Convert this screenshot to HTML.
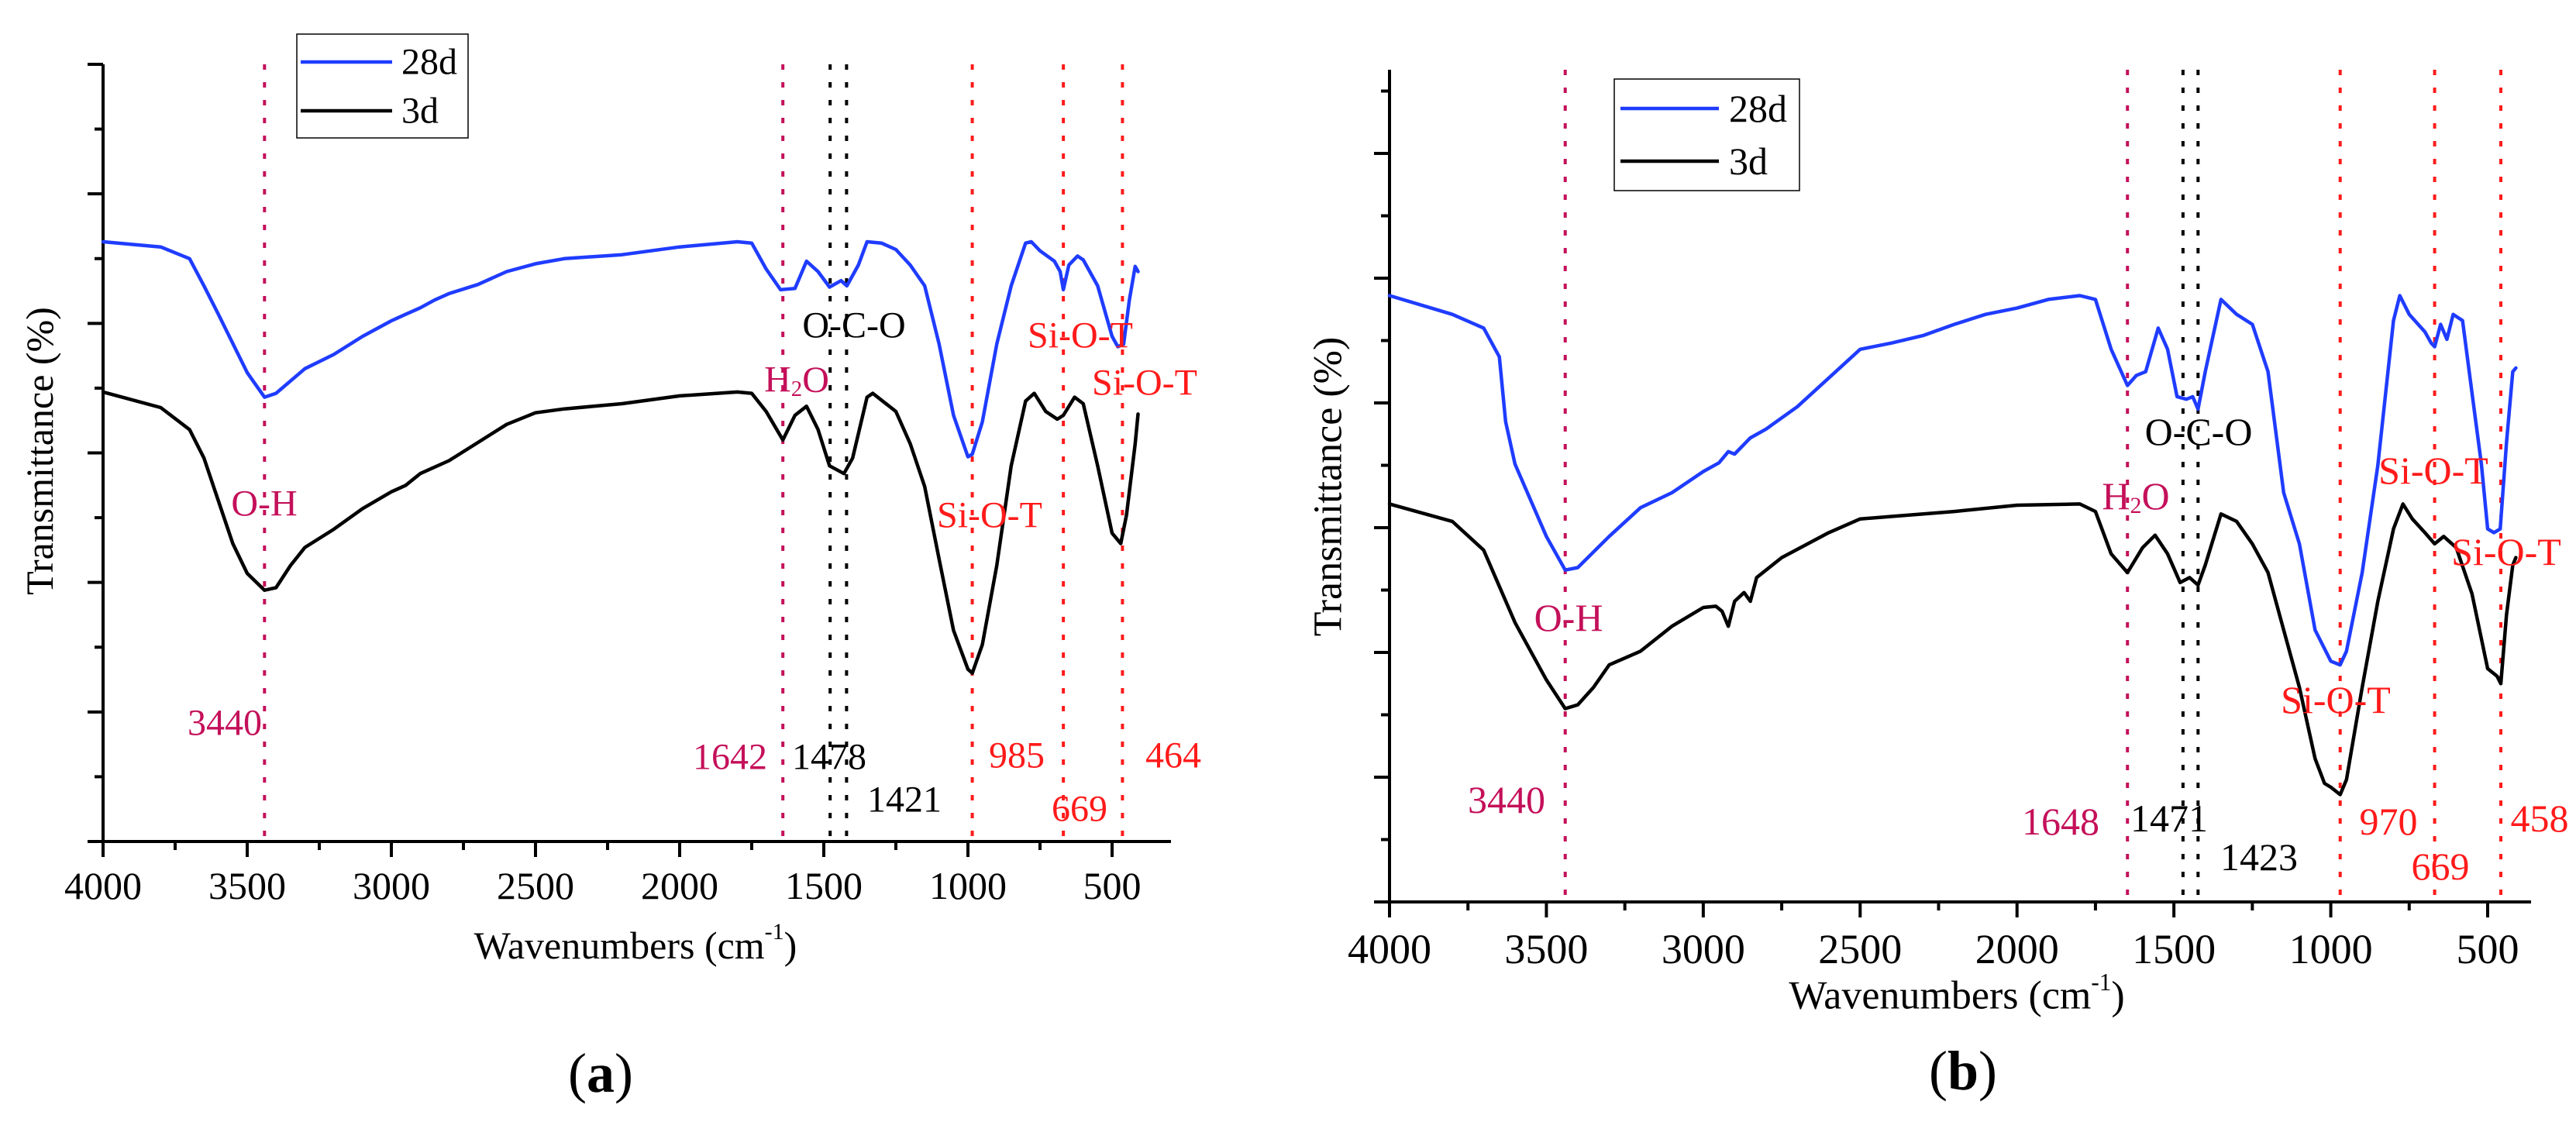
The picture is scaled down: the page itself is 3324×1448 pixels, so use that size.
<!DOCTYPE html>
<html><head><meta charset="utf-8"><style>
html,body{margin:0;padding:0;background:#fff}
svg{display:block;font-family:"Liberation Serif","DejaVu Serif",serif}
svg text, svg tspan{font-family:"Liberation Serif","DejaVu Serif",serif}
</style></head><body>
<svg id="chart" width="3324" height="1448" viewBox="0 0 3324 1448" xmlns="http://www.w3.org/2000/svg" font-family="Liberation Serif, DejaVu Serif, serif"></svg>
<script>
// ---- Panel (a) data ----
const aWn28 = [4000,3800,3700,3650,3600,3500,3440,3400,3300,3200,3100,3000,2950,2900,2850,2800,2700,2600,2500,2400,2200,2000,1800,1750,1700,1650,1600,1560,1520,1480,1440,1420,1380,1350,1300,1250,1200,1150,1100,1050,1000,985,950,900,850,800,780,750,700,680,669,650,620,600,550,500,480,460,440,420,410];
const aT28 = [46.3,45.9,45,42.9,40.7,36.2,34.3,34.6,36.5,37.6,39,40.2,40.7,41.2,41.8,42.3,43,44,44.6,45,45.3,45.9,46.3,46.2,44.2,42.6,42.7,44.8,44,42.8,43.3,42.9,44.5,46.3,46.2,45.7,44.5,42.9,38.4,32.9,29.7,29.9,32.4,38.4,42.9,46.2,46.3,45.6,44.8,44,42.6,44.5,45.2,44.9,42.9,39,38.2,38.4,41.8,44.4,44];
const aWn3 = [4000,3800,3700,3650,3600,3550,3500,3440,3400,3350,3300,3200,3100,3000,2950,2900,2800,2700,2600,2500,2400,2200,2000,1800,1750,1700,1642,1600,1560,1520,1480,1430,1400,1350,1330,1250,1200,1150,1100,1050,1000,985,950,900,850,800,770,730,690,669,630,600,550,500,470,450,420,410];
const aT3 = [34.7,33.5,31.8,29.6,26.3,23,20.7,19.4,19.6,21.3,22.7,24.1,25.7,27,27.5,28.4,29.4,30.8,32.2,33.1,33.4,33.8,34.4,34.7,34.6,33.2,31,32.9,33.6,31.8,29,28.4,29.6,34.3,34.6,33.2,30.7,27.4,21.8,16.3,13.3,13,15.2,21.3,29,34,34.6,33.2,32.6,32.9,34.3,33.8,29,23.8,23,25.2,30.7,33];
const aXTicks = [4000,3500,3000,2500,2000,1500,1000,500];
// ---- Panel (b) data ----
const bWn28 = [4000,3800,3700,3650,3630,3600,3500,3440,3400,3300,3200,3100,3000,2950,2920,2900,2850,2800,2700,2600,2500,2400,2300,2200,2100,2000,1900,1800,1750,1700,1648,1620,1590,1550,1520,1490,1460,1440,1423,1400,1350,1300,1250,1200,1150,1100,1050,1000,970,950,900,850,800,780,750,700,680,669,650,630,610,580,550,520,500,480,460,440,420,410];
const bT28 = [48.6,47.1,46,43.7,38.5,35.1,29.3,26.6,26.8,29.3,31.6,32.8,34.5,35.2,36.1,35.9,37.2,37.9,39.7,42,44.3,44.8,45.4,46.3,47.1,47.6,48.3,48.6,48.3,44.3,41.4,42.2,42.5,46,44.3,40.5,40.3,40.5,39.5,42.5,48.3,47.1,46.3,42.5,32.8,28.7,21.8,19.3,19,20.1,26.4,35,46.6,48.6,47.1,45.7,44.8,44.5,46.3,45.1,47.1,46.6,40.8,35.1,29.9,29.6,29.9,36.8,42.5,42.8];
const bWn3 = [4000,3800,3700,3650,3600,3500,3440,3400,3350,3300,3200,3100,3000,2960,2940,2920,2900,2870,2850,2830,2750,2600,2500,2400,2200,2000,1800,1750,1700,1648,1600,1560,1520,1480,1450,1423,1400,1350,1300,1250,1200,1150,1100,1050,1020,1000,970,950,900,850,800,770,740,700,669,640,600,550,500,470,458,440,420,410];
const bT3 = [31.9,30.5,28.2,25.3,22.4,17.8,15.5,15.8,17.2,19,20.1,22.1,23.6,23.7,23.3,22.1,24.1,24.8,24.1,26,27.6,29.6,30.7,30.9,31.3,31.8,31.9,31.3,27.9,26.4,28.4,29.4,27.9,25.6,26,25.4,27,31.1,30.5,28.7,26.4,21.8,17.2,11.5,9.5,9.2,8.6,9.8,17.2,24.1,29.9,31.9,30.7,29.6,28.7,29.3,28.4,24.7,18.7,18.1,17.5,23,27,27.6];
const bXTicks = [4000,3500,3000,2500,2000,1500,1000,500];

const NS = "http://www.w3.org/2000/svg";
const FONT = "Liberation Serif, DejaVu Serif, serif";
const svg = document.getElementById('chart');
const CRIM = "#c4105a", RED = "#ff1a1a", BLUE = "#1f3cff";

function mk(tag, attrs, parent){
  const e = document.createElementNS(NS, tag);
  for (const k in attrs) e.setAttribute(k, attrs[k]);
  (parent||svg).appendChild(e);
  return e;
}
function txt(parent, x, y, s, size, fill, anchor){
  const t = mk('text', {x:x, y:y, 'font-size':size, 'font-family':FONT, fill:fill||'#000', 'text-anchor':anchor||'start', 'dominant-baseline':'central'}, parent);
  t.textContent = s;
  return t;
}

function panel(cfg){
  const g = mk('g', {'font-family':FONT});
  
  
  const X = wn => cfg.x0 + (4000 - wn) * cfg.pxPerWn;
  const Y = v => cfg.yBottom - v * cfg.pxPerUnit;
  const yAx = mk('line', {x1:cfg.x0, y1:cfg.yTop, x2:cfg.x0, y2:cfg.yBottom+2, stroke:'#000','stroke-width':4}, g);
  
  
  const xAx = mk('line', {x1:cfg.x0-18, y1:cfg.yBottom, x2:cfg.xEnd, y2:cfg.yBottom, stroke:'#000','stroke-width':4}, g);
  
  
  for (let v = 0; v * cfg.pxPerUnit <= cfg.yBottom - cfg.yTop + 1; v += 5){
    const major = (v % 10 === 0);
    const t = mk('line', {x1:cfg.x0 - (major?20:11), y1:Y(v), x2:cfg.x0, y2:Y(v), stroke:'#000','stroke-width':4}, g);
    
    
  }
  for (let w = 4000; X(w) <= cfg.xEnd; w -= 250){
    const major = (w % 500 === 0);
    const t = mk('line', {x1:X(w), y1:cfg.yBottom, x2:X(w), y2:cfg.yBottom + (major?20:11), stroke:'#000','stroke-width':4}, g);
    
    
  }
  cfg.xTicks.forEach(w => {
    const l = txt(g, X(w), cfg.tickLabelY, String(w), cfg.tickSize, '#000', 'middle');
    
    
  });
  const xt = mk('text', {x:cfg.xTitleX, y:cfg.xTitleY, 'font-size':cfg.titleSize, 'font-family':FONT, 'text-anchor':'middle','dominant-baseline':'central'}, g);
  xt.innerHTML = 'Wavenumbers (cm<tspan dy="-18" font-size="'+(cfg.titleSize*0.6)+'">-1</tspan><tspan dy="18">)</tspan>';
  
  
  const yt = txt(g, 0, 0, 'Transmittance (%)', cfg.titleSize, '#000', 'middle');
  yt.setAttribute('transform', 'translate('+cfg.yTitleX+','+cfg.yTitleY+') rotate(-90)');
  
  
  cfg.refs.forEach(r => {
    const l = mk('line', {x1:X(r[0]), y1:cfg.yTop, x2:X(r[0]), y2:cfg.yBottom, stroke:r[1], 'stroke-width':4, 'stroke-dasharray':'7 16'}, g);
    
    
  });
  function series(wn, vals, color, name){
    const d = wn.map((w,i) => (i?'L':'M') + X(w).toFixed(1) + ',' + Y(vals[i]).toFixed(1)).join(' ');
    const p = mk('path', {d:d, fill:'none', stroke:color, 'stroke-width':4.5, 'stroke-linejoin':'round', 'stroke-linecap':'round'}, g);
    
    
  }
  series(cfg.wn3, cfg.t3, '#000', 'series-3d');
  series(cfg.wn28, cfg.t28, BLUE, 'series-28d');
  cfg.labels.forEach(a => {
    let t;
    if (a[2] === 'H2O'){
      t = mk('text', {x:a[0], y:a[1], 'font-size':cfg.annSize, 'font-family':FONT, fill:a[3], 'text-anchor':'middle','dominant-baseline':'central'}, g);
      t.innerHTML = 'H<tspan dy="12" font-size="'+(cfg.annSize*0.6)+'">2</tspan><tspan dy="-12">O</tspan>';
    } else {
      t = txt(g, a[0], a[1], a[2], cfg.annSize, a[3], 'middle');
    }
    
    
  });
  const L = cfg.legend;
  const lg = mk('g', {}, g);
  
  
  mk('rect', {x:L.x, y:L.y, width:L.w, height:L.h, fill:'#fff', stroke:'#000', 'stroke-width':1.5}, lg);
  [[BLUE,'28d',L.y1],['#000','3d',L.y2]].forEach(e => {
    const ln = mk('line', {x1:L.lx1, y1:e[2], x2:L.lx2, y2:e[2], stroke:e[0], 'stroke-width':4.5}, lg);
    
    
    const tt = txt(lg, L.tx, e[2], e[1], cfg.legSize, '#000', 'start');
    
    
  });
  const pl = mk('text', {x:cfg.plX, y:cfg.plY, 'font-size':72, 'font-family':FONT, 'text-anchor':'middle','dominant-baseline':'central'}, g);
  pl.innerHTML = '(<tspan font-weight="bold">' + cfg.letter + '</tspan>)';
  
  
}

panel({
  name:'panel-a', letter:'a', x0:133, pxPerWn:1302/3500, xEnd:1511, yTop:83, yBottom:1086, pxPerUnit:1003/60,
  xTicks:aXTicks, tickLabelY:1143, tickSize:50, titleSize:50, annSize:48, legSize:48,
  xTitleX:820, xTitleY:1220, yTitleX:51, yTitleY:582,
  wn28:aWn28, t28:aT28, wn3:aWn3, t3:aT3,
  refs:[[3440,CRIM],[1642,CRIM],[1478,'#000'],[1421,'#000'],[985,RED],[669,RED],[464,RED]],
  labels:[[1102,420,'O-C-O','#000'],[1028,490,'H2O',CRIM],[1394,433,'Si-O-T',RED],[1477,494,'Si-O-T',RED],
          [341,650,'O-H',CRIM],[1277,665,'Si-O-T',RED],[290,933,'3440',CRIM],[942,977,'1642',CRIM],
          [1070,977,'1478','#000'],[1167,1032,'1421','#000'],[1312,975,'985',RED],[1393,1044,'669',RED],[1514,975,'464',RED]],
  legend:{x:383,y:44,w:221,h:134,y1:80,y2:143,lx1:388,lx2:506,tx:518},
  plX:775, plY:1385
});
panel({
  name:'panel-b', letter:'b', x0:1793, pxPerWn:1417/3500, xEnd:3266, yTop:90, yBottom:1164, pxPerUnit:16.1,
  xTicks:bXTicks, tickLabelY:1225, tickSize:54, titleSize:52, annSize:50, legSize:50,
  xTitleX:2525, xTitleY:1285, yTitleX:1714, yTitleY:628,
  wn28:bWn28, t28:bT28, wn3:bWn3, t3:bT3,
  refs:[[3440,CRIM],[1648,CRIM],[1471,'#000'],[1423,'#000'],[970,RED],[669,RED],[458,RED]],
  labels:[[2837,557,'O-C-O','#000'],[2756,640,'H2O',CRIM],[3140,607,'Si-O-T',RED],[3234,712,'Si-O-T',RED],
          [2024,797,'O-H',CRIM],[3014,903,'Si-O-T',RED],[1944,1032,'3440',CRIM],[2659,1060,'1648',CRIM],
          [2799,1056,'1471','#000'],[2915,1106,'1423','#000'],[3082,1060,'970',RED],[3149,1118,'669',RED],[3277,1056,'458',RED]],
  legend:{x:2083,y:102,w:239,h:144,y1:140,y2:208,lx1:2091,lx2:2218,tx:2231},
  plX:2533, plY:1382
});
</script>
</body></html>
